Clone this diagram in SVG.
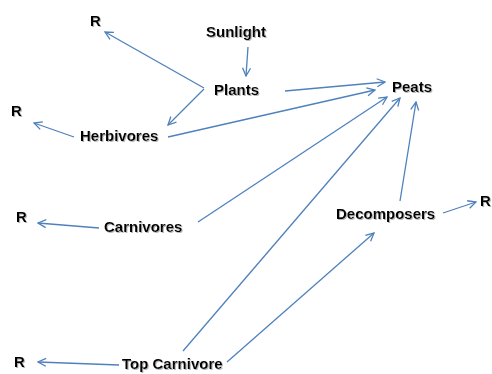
<svg xmlns="http://www.w3.org/2000/svg" width="492" height="374" viewBox="0 0 492 374">
<defs>
<style>
.t{font-family:"Liberation Sans",Arial,sans-serif;font-weight:bold;font-size:15px;fill:#000;filter:url(#sh)}
.c line{stroke:#4F81BD;stroke-width:1.3;fill:none;marker-end:url(#ah)}
</style>
<filter id="sh" x="-10%" y="-30%" width="130%" height="160%">
<feDropShadow dx="1" dy="1" stdDeviation="0.6" flood-color="#999" flood-opacity="0.7"/>
</filter>
<marker id="ah" markerWidth="10" markerHeight="10" refX="9" refY="5" orient="auto" markerUnits="userSpaceOnUse">
<path d="M1,1 L9,5 L1,9" fill="none" stroke="#4F81BD" stroke-width="1.3"/>
</marker>
</defs>
<rect width="492" height="374" fill="#fff"/>
<g class="c" id="connectors">
<line x1="248" y1="47" x2="246" y2="76"/>
<line x1="204" y1="88" x2="105" y2="32"/>
<line x1="204" y1="89" x2="168" y2="125"/>
<line x1="74" y1="137" x2="34" y2="123"/>
<line x1="168" y1="137" x2="375" y2="90"/>
<line x1="285" y1="91" x2="385" y2="82"/>
<line x1="198" y1="222" x2="387" y2="97"/>
<line x1="183" y1="351" x2="400" y2="98"/>
<line x1="400" y1="201" x2="416" y2="102"/>
<line x1="227" y1="362" x2="374" y2="233"/>
<line x1="443" y1="213" x2="476" y2="202"/>
<line x1="99" y1="228" x2="38" y2="223"/>
<line x1="119" y1="365" x2="38" y2="362"/>
</g>
<g id="sunlight"><text class="t" x="206" y="37">Sunlight</text></g>
<g id="plants"><text class="t" x="214" y="95">Plants</text></g>
<g id="peats"><text class="t" x="392" y="92">Peats</text></g>
<g id="herbivores"><text class="t" x="80" y="141">Herbivores</text></g>
<g id="carnivores"><text class="t" x="104" y="232">Carnivores</text></g>
<g id="decomposers"><text class="t" x="336" y="219">Decomposers</text></g>
<g id="topcarnivore"><text class="t" x="122" y="369">Top Carnivore</text></g>
<g id="r1"><text class="t" x="90" y="26">R</text></g>
<g id="r2"><text class="t" x="11" y="116">R</text></g>
<g id="r3"><text class="t" x="16" y="222">R</text></g>
<g id="r4"><text class="t" x="480" y="206">R</text></g>
<g id="r5"><text class="t" x="14" y="367">R</text></g>
</svg>
